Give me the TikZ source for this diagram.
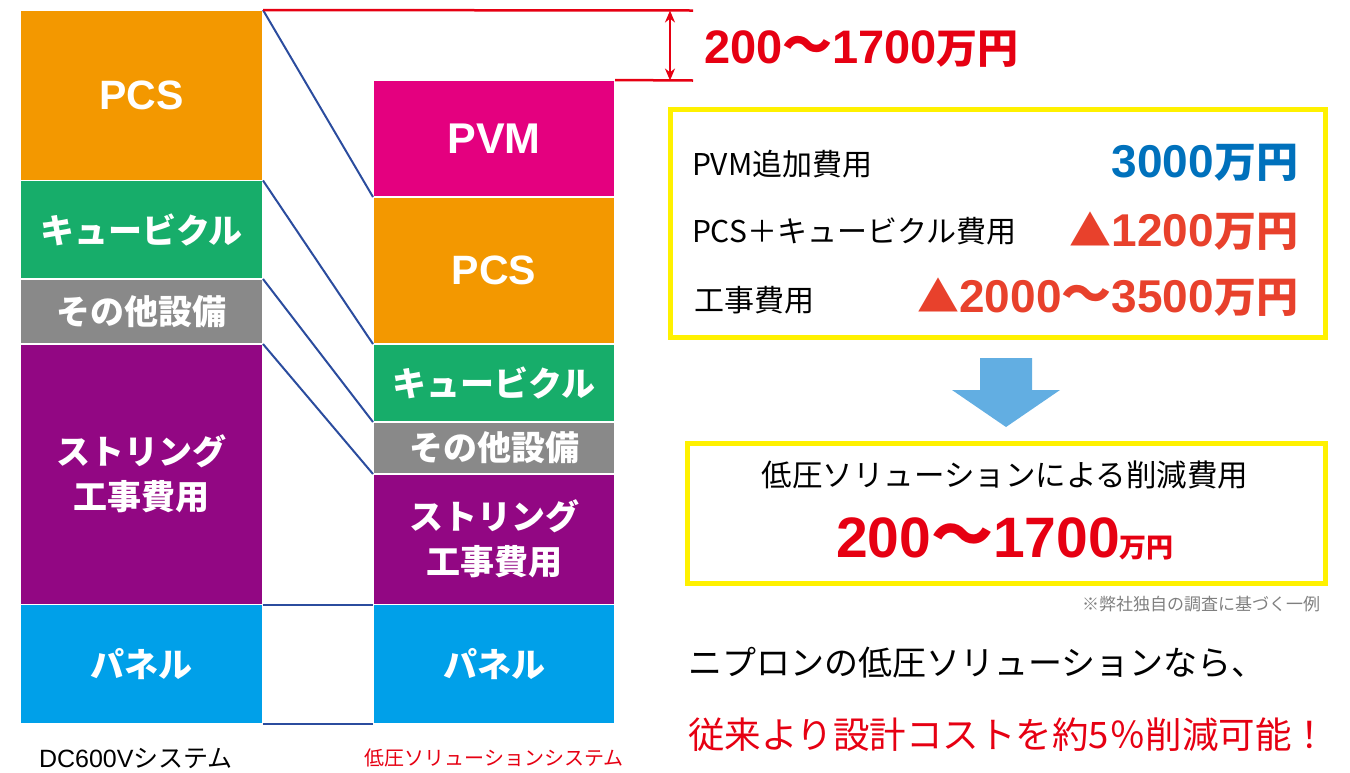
\documentclass[tikz,border=0pt]{standalone}
\usepackage{fontspec}
\newfontfamily\jp{Noto Sans CJK JP}
\newfontfamily\ar{Liberation Sans}
\usetikzlibrary{arrows.meta}
\definecolor{cOr}{HTML}{F39800}
\definecolor{cGr}{HTML}{17AD6A}
\definecolor{cGy}{HTML}{898989}
\definecolor{cPu}{HTML}{920783}
\definecolor{cBl}{HTML}{00A0E9}
\definecolor{cMg}{HTML}{E4007F}
\definecolor{cConn}{HTML}{2B4C9E}
\definecolor{cRed}{HTML}{E60012}
\definecolor{cRed2}{HTML}{E8412C}
\definecolor{cBlue}{HTML}{0071BC}
\definecolor{cYel}{HTML}{FFF100}
\definecolor{cArr}{HTML}{62AEE2}
\definecolor{cNote}{HTML}{7F7F7F}
\begin{document}
\begin{tikzpicture}[x=1pt,y=-1pt,
  blk/.style={draw=white, line width=1.5pt, inner sep=0pt, outer sep=0pt, anchor=north west,
    text=white, align=center, font=\jp\bfseries\fontsize{34}{45}\selectfont},
  conn/.style={draw=cConn, line width=2pt},
  redl/.style={draw=cRed, line width=2.5pt},
  ybox/.style={draw=cYel, line width=5pt, inner sep=0pt, outer sep=0pt},
  txt/.style={inner sep=0pt, outer sep=0pt}]
\useasboundingbox (0,0) rectangle (1350,772);
% left column
\node[blk, fill=cOr, minimum width=243pt, minimum height=170.5pt] (lpcs) at (20,10) {\ar\fontsize{41}{45}\selectfont PCS};
\node[blk, fill=cGr, minimum width=243pt, minimum height=98.5pt] (lcub) at (20,180.5) {キュービクル};
\node[blk, fill=cGy, minimum width=243pt, minimum height=65pt] (loth) at (20,279) {その他設備};
\node[blk, fill=cPu, minimum width=243pt, minimum height=260.5pt] (lstr) at (20,344) {ストリング\\工事費用};
\node[blk, fill=cBl, minimum width=243pt, minimum height=119.5pt] (lpan) at (20,604.5) {パネル};
% right column
\node[blk, fill=cMg, minimum width=242pt, minimum height=117pt] (rpvm) at (373,80) {\ar\fontsize{43}{45}\selectfont PVM};
\node[blk, fill=cOr, minimum width=242pt, minimum height=147pt] (rpcs) at (373,197) {\ar\fontsize{41}{45}\selectfont PCS};
\node[blk, fill=cGr, minimum width=242pt, minimum height=78pt] (rcub) at (373,344) {キュービクル};
\node[blk, fill=cGy, minimum width=242pt, minimum height=52pt] (roth) at (373,422) {その他設備};
\node[blk, fill=cPu, minimum width=242pt, minimum height=130.5pt] (rstr) at (373,474) {ストリング\\工事費用};
\node[blk, fill=cBl, minimum width=242pt, minimum height=119.5pt] (rpan) at (373,604.5) {パネル};
% connectors
\draw[conn] (lpcs.north east) -- (rpcs.north west);
\draw[conn] (lcub.north east) -- (rcub.north west);
\draw[conn] (loth.north east) -- (roth.north west);
\draw[conn] (lstr.north east) -- (rstr.north west);
\draw[conn] (lpan.north east) -- (rpan.north west);
\draw[conn] (lpan.south east) -- (rpan.south west);
% red dimension
\coordinate (t1) at (693,10.5);
\coordinate (t2) at (693,80.5);
\coordinate (a1) at (670,10.5);
\coordinate (a2) at (670,80.5);
\draw[redl] (lpcs.north east) -- (t1);
\draw[redl] (rpvm.north east) -- (t2);
\draw[redl, {Stealth[length=12pt,width=10pt]}-{Stealth[length=12pt,width=10pt]}] (a1) -- (a2);
\node[txt, anchor=base west, text=cRed] (diff) at (704,63)
  {\ar\bfseries\fontsize{47}{47}\selectfont 200{\jp\fontsize{50}{50}\selectfont ～}1700{\jp\fontsize{41}{41}\selectfont 万円}};
% box 1
\node[ybox, minimum width=655pt, minimum height=228pt] (box1) at (998,223.5) {};
\node[txt, anchor=base west, font=\jp\fontsize{30}{30}\selectfont] (l1) at (692,175) {PVM追加費用};
\node[txt, anchor=base west, font=\jp\fontsize{30}{30}\selectfont] (l2) at (692,242) {PCS＋キュービクル費用};
\node[txt, anchor=base west, font=\jp\fontsize{30}{30}\selectfont] (l3) at (694,311) {工事費用};
\node[txt, anchor=base east, text=cBlue] (v1) at (1298,177)
  {\ar\bfseries\fontsize{46}{46}\selectfont 3000{\jp\fontsize{42}{42}\selectfont 万円}};
\node[txt, anchor=base east, text=cRed2] (v2) at (1298,246)
  {{\jp\bfseries\fontsize{42}{42}\selectfont ▲}\ar\bfseries\fontsize{46}{46}\selectfont 1200{\jp\fontsize{42}{42}\selectfont 万円}};
\node[txt, anchor=base east, text=cRed2] (v3) at (1298,312)
  {{\jp\bfseries\fontsize{42}{42}\selectfont ▲}\ar\bfseries\fontsize{46}{46}\selectfont 2000{\jp\fontsize{50}{50}\selectfont ～}3500{\jp\fontsize{42}{42}\selectfont 万円}};
% arrow
\fill[cArr] (980,358) -- (1032,358) -- (1032,390) -- (1060,390) -- (1006,427) -- (952,390) -- (980,390) -- cycle;
% box 2
\node[ybox, minimum width=638pt, minimum height=140pt] (box2) at (1006.5,513.5) {};
\node[txt, font=\jp\fontsize{30.5}{31}\selectfont] (h2) at (1005,475) {低圧ソリューションによる削減費用};
\node[txt, anchor=base, text=cRed] (n2) at (1005,557)
  {\ar\bfseries\fontsize{57}{57}\selectfont 200{\jp\fontsize{62}{62}\selectfont ～}1700{\jp\fontsize{27}{27}\selectfont 万円}};
\node[txt, anchor=east, text=cNote, font=\jp\fontsize{17}{18}\selectfont] (note) at (1320,604) {※弊社独自の調査に基づく一例};
% bottom text
\node[txt, anchor=west, font=\jp\fontsize{34}{36}\selectfont] (m1) at (688,663) {ニプロンの低圧ソリューションなら、};
\node[txt, anchor=west, text=cRed, font=\jp\fontsize{36.5}{38}\selectfont] (m2) at (688,735) {従来より設計コストを約5\symbol{"FF05}削減可能！};
% labels
\node[txt, anchor=west] (lab1) at (39,758) {\ar\fontsize{25}{26}\selectfont DC600V{\jp\fontsize{25}{26}\selectfont システム}};
\node[txt, text=cRed, font=\jp\fontsize{20}{21}\selectfont] (lab2) at (494,758) {低圧ソリューションシステム};
\end{tikzpicture}
\end{document}
